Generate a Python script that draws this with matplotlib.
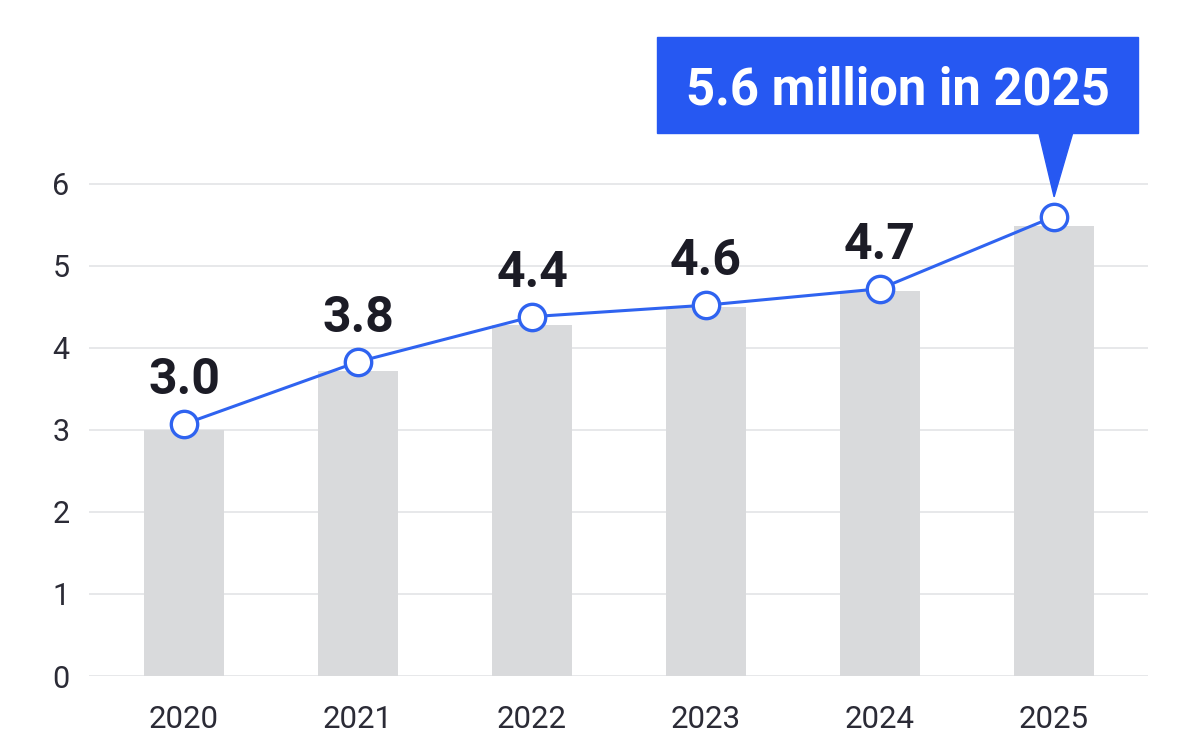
import matplotlib
matplotlib.use("Agg")
import matplotlib.pyplot as plt
from matplotlib.patches import Polygon

plt.rcParams["font.family"] = ["Roboto", "DejaVu Sans"]

# ---------------------------------------------------------------------------
# Data
# ---------------------------------------------------------------------------
years = ["2020", "2021", "2022", "2023", "2024", "2025"]
bar_values = [3.0, 3.72, 4.28, 4.5, 4.69, 5.48]
line_values = [3.07, 3.83, 4.38, 4.52, 4.72, 5.6]
point_labels = ["3.0", "3.8", "4.4", "4.6", "4.7"]
callout_text = "5.6 million in 2025"
y_ticks = [0, 1, 2, 3, 4, 5, 6]

BLUE = "#2658f2"
LINE_BLUE = "#2f63f0"
BAR_GRAY = "#d9dadc"
GRID = "#e5e6e8"
TEXT = "#1c1c26"
TICK_TEXT = "#2b2b36"

fig = plt.figure(figsize=(11.78, 7.52), dpi=100)
ax = fig.add_axes([0.0756, 0.101, 0.899, 0.862])

x = range(len(years))
ax.bar(x, bar_values, width=0.46, color=BAR_GRAY, zorder=2)
ax.plot(x, line_values, color=LINE_BLUE, lw=2.2, marker="o", markersize=19,
        markerfacecolor="white", markeredgecolor=LINE_BLUE, markeredgewidth=2.4,
        zorder=4)

for i, lab in enumerate(point_labels):
    ax.annotate(lab, (i, line_values[i]), xytext=(0, 21.5), textcoords="offset points",
                ha="center", va="baseline", fontsize=36, fontweight="bold",
                color=TEXT, zorder=5)

# callout pointing at the last point
xl, yl = len(years) - 1, line_values[-1]
tip_y = yl + 0.24
box_bottom, box_top = tip_y + 0.78, tip_y + 1.95
box_left, box_right = xl - 2.28, xl + 0.48
tri = Polygon([(xl - 0.09, box_bottom + 0.02), (xl + 0.11, box_bottom + 0.02), (xl, tip_y)],
              closed=True, color=BLUE, clip_on=False, zorder=6)
box = Polygon([(box_left, box_bottom), (box_right, box_bottom),
               (box_right, box_top), (box_left, box_top)],
              closed=True, color=BLUE, clip_on=False, zorder=6)
ax.add_patch(tri)
ax.add_patch(box)
ax.text((box_left + box_right) / 2, (box_bottom + box_top) / 2, callout_text,
        ha="center", va="center_baseline", color="white", fontsize=36.5, fontweight="bold",
        zorder=7)

ax.set_xlim(-0.546, 5.54)
ax.set_ylim(0, 7.9)
ax.set_yticks(y_ticks)
ax.set_xticks(list(x))
ax.set_xticklabels(years)
ax.grid(axis="y", color=GRID, lw=1.3, zorder=0)
ax.set_axisbelow(True)
for s in ax.spines.values():
    s.set_visible(False)
ax.tick_params(axis="both", length=0, colors=TICK_TEXT)
ax.tick_params(axis="y", labelsize=22, pad=14)
ax.tick_params(axis="x", labelsize=22.5, pad=21)

fig.savefig("out.png", dpi=100)
